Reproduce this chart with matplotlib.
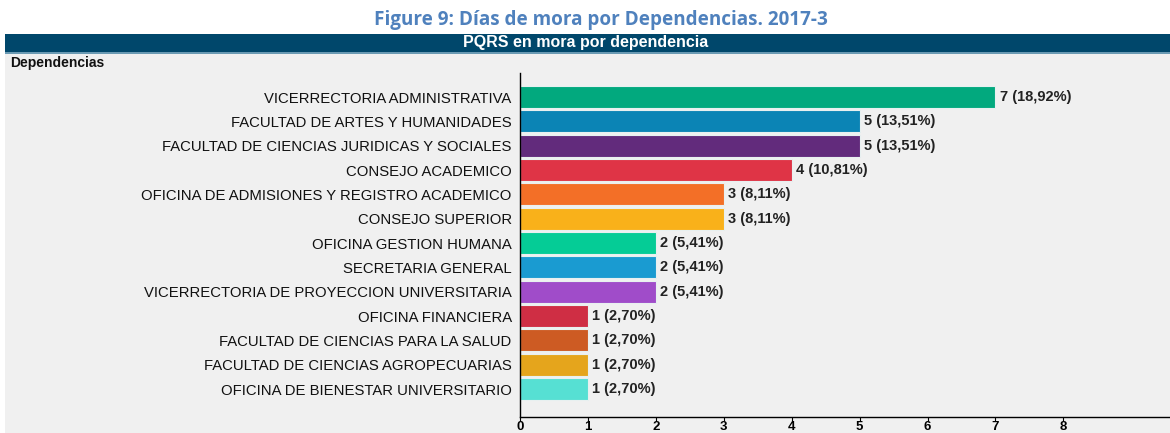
import matplotlib.pyplot as plt
from matplotlib.patches import Rectangle
from matplotlib import font_manager

# === Data ===
dependencias = [
    'VICERRECTORIA ADMINISTRATIVA',
    'FACULTAD DE ARTES Y HUMANIDADES',
    'FACULTAD DE CIENCIAS JURIDICAS Y SOCIALES',
    'CONSEJO ACADEMICO',
    'OFICINA DE ADMISIONES Y REGISTRO ACADEMICO',
    'CONSEJO SUPERIOR',
    'OFICINA GESTION HUMANA',
    'SECRETARIA GENERAL',
    'VICERRECTORIA DE PROYECCION UNIVERSITARIA',
    'OFICINA FINANCIERA',
    'FACULTAD DE CIENCIAS PARA LA SALUD',
    'FACULTAD DE CIENCIAS AGROPECUARIAS',
    'OFICINA DE BIENESTAR UNIVERSITARIO',
]
cantidades = [7, 5, 5, 4, 3, 3, 2, 2, 2, 1, 1, 1, 1]
porcentajes = ['18,92%', '13,51%', '13,51%', '10,81%', '8,11%', '8,11%',
               '5,41%', '5,41%', '5,41%', '2,70%', '2,70%', '2,70%', '2,70%']
colores = ['#02a97e', '#0b84b5', '#622b7c', '#df3446', '#f36f27', '#f9b11a',
           '#05cc96', '#1a9bd1', '#a04cc9', '#cf2e44', '#cd5b23', '#e5a51c',
           '#56e0d3']
ticks_x = [0, 1, 2, 3, 4, 5, 6, 7, 8]

# narrow font if we have one
names = {f.name for f in font_manager.fontManager.ttflist}
narrow = 'Liberation Sans Narrow' if 'Liberation Sans Narrow' in names else 'Liberation Sans'

W, H = 1170, 433
fig = plt.figure(figsize=(W / 100, H / 100), dpi=100)
fig.patch.set_facecolor('white')

# gray panel + dark header
fig.patches.append(Rectangle((5 / W, 0), 1 - 5 / W, 1 - 52 / H, transform=fig.transFigure,
                             facecolor='#f0f0f0', edgecolor='none', zorder=-2))
fig.patches.append(Rectangle((5 / W, 1 - 52 / H), 1 - 5 / W, 18 / H, transform=fig.transFigure,
                             facecolor='#00476b', edgecolor='none', zorder=-2))
fig.patches.append(Rectangle((5 / W, 1 - 54 / H), 1 - 5 / W, 2 / H, transform=fig.transFigure,
                             facecolor='#6a9ab3', edgecolor='none', zorder=-2))

fig.text(601 / W, 1 - 20 / H, 'Figure 9: Días de mora por Dependencias. 2017-3', ha='center', va='center',
         color='#4f81bd', fontsize=13.6, fontweight='bold', family='Open Sans')
fig.text(586 / W, 1 - 43 / H, 'PQRS en mora por dependencia', ha='center', va='center',
         color='white', fontsize=11.5, fontweight='bold', family='Liberation Sans')
fig.text(10 / W, 1 - 63 / H, 'Dependencias', ha='left', va='center',
         color='#111111', fontsize=10, fontweight='bold', family=narrow)

# === Plot ===
ax = fig.add_axes([520 / W, 1 - 417 / H, 1 - 520 / W, (417 - 73) / H])
ax.set_zorder(2)
ax.set_facecolor('none')
y = list(range(len(dependencias)))
ax.barh(y, cantidades, height=0.9, color=colores, edgecolor='#e8f0f0', linewidth=0.8)
for yi, c, p in zip(y, cantidades, porcentajes):
    ax.text(c + 0.06, yi, f'{c} ({p})', va='center', ha='left', fontsize=10.5,
            fontweight='bold', family=narrow, color='#222222')

ax.set_xlim(0, 9.57)
ax.set_ylim(len(dependencias) - 1 + 1.15, -0.99)
ax.set_yticks(y)
ax.set_yticklabels(dependencias, fontsize=10.7, family=narrow, color='#111111')
ax.tick_params(axis='y', length=0, pad=6)
ax.set_xticks(ticks_x)
ax.set_xticklabels([str(t) for t in ticks_x], fontsize=9.5, fontweight='bold', family=narrow)
ax.tick_params(axis='x', length=3, pad=0, width=0.8)
for s in ['top', 'right']:
    ax.spines[s].set_visible(False)
ax.spines['left'].set_linewidth(1)
ax.spines['bottom'].set_linewidth(1)

fig.savefig('out.png', dpi=100)
